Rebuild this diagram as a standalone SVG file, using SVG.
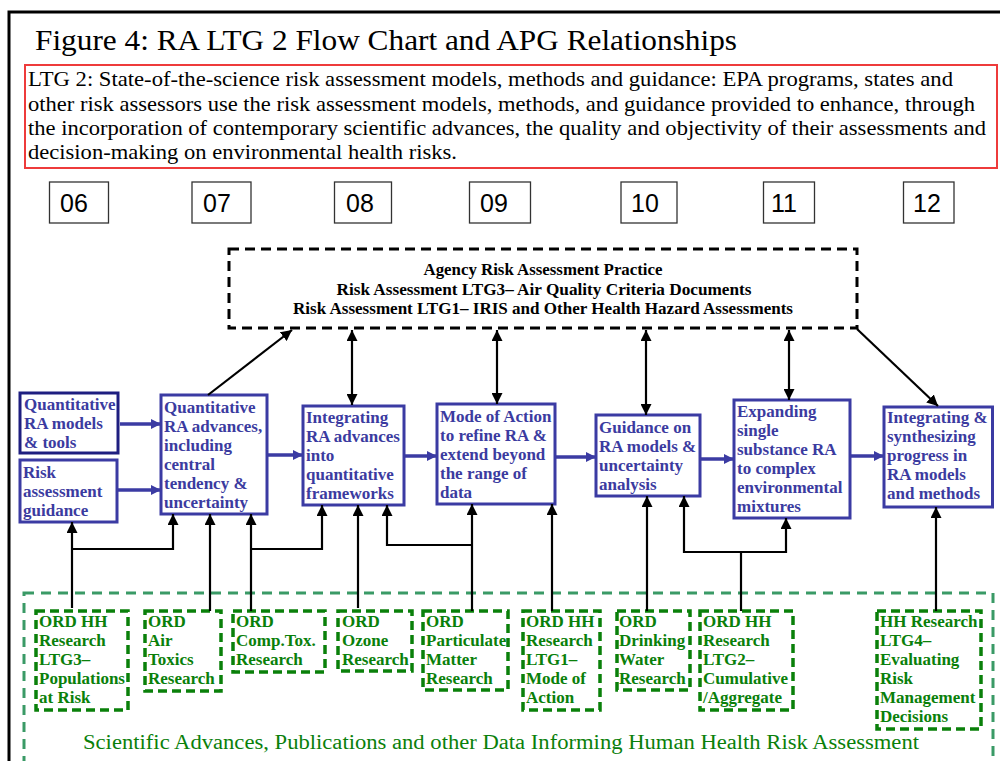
<svg xmlns="http://www.w3.org/2000/svg" width="1000" height="761" viewBox="0 0 1000 761">
<style>
.title{font-family:"Liberation Serif",serif;font-size:30px;fill:#000}
.ltg{font-family:"Liberation Serif",serif;font-size:21px;fill:#000}
.num{font-family:"Liberation Sans",Arial,sans-serif;font-size:25px;fill:#000}
.numbox{fill:#fff;stroke:#333;stroke-width:1.3}
.topt{font-family:"Liberation Serif",serif;font-size:16px;font-weight:bold;fill:#000}
.bt{font-family:"Liberation Serif",serif;font-size:17px;font-weight:bold;fill:#3b3ba0}
.bbox{fill:#fff;stroke:#3b3ba3;stroke-width:3}
.gt{font-family:"Liberation Serif",serif;font-size:17px;font-weight:bold;fill:#0a800a}
.gbox{fill:none;stroke:#0a800a;stroke-width:3.5;stroke-dasharray:9 5}
.blue{fill:none;stroke:#3b3ba3;stroke-width:3.5;marker-end:url(#ab)}
.blk{fill:none;stroke:#000;stroke-width:2.2}
.end{marker-end:url(#ak)}
.both{marker-start:url(#ak);marker-end:url(#ak)}
</style>
<defs>
<marker id="ak" viewBox="0 0 10 10" markerWidth="11" markerHeight="11" refX="10" refY="5" orient="auto-start-reverse" markerUnits="userSpaceOnUse"><path d="M0,0 L10,5 L0,10 z" fill="#000"/></marker>
<marker id="ab" viewBox="0 0 10 10" markerWidth="10" markerHeight="10" refX="10" refY="5" orient="auto" markerUnits="userSpaceOnUse"><path d="M0,0 L10,5 L0,10 z" fill="#3b3ba3"/></marker>
</defs>
<rect width="1000" height="761" fill="#fff"/>
<path d="M9,761 L9,12 L1000,12" fill="none" stroke="#000" stroke-width="3"/>
<text class="title" x="35" y="50" textLength="702" lengthAdjust="spacingAndGlyphs">Figure 4: RA LTG 2 Flow Chart and APG Relationships</text>
<g id="ltg2">
<rect x="25" y="65" width="972" height="103" fill="none" stroke="#ee3b3b" stroke-width="2"/>
<text class="ltg" x="28" y="86" textLength="925" lengthAdjust="spacingAndGlyphs">LTG 2: State-of-the-science risk assessment models, methods and guidance: EPA programs, states and</text>
<text class="ltg" x="28" y="110.5" textLength="947" lengthAdjust="spacingAndGlyphs">other risk assessors use the risk assessment models, methods, and guidance provided to enhance, through</text>
<text class="ltg" x="28" y="135" textLength="958" lengthAdjust="spacingAndGlyphs">the incorporation of contemporary scientific advances, the quality and objectivity of their assessments and</text>
<text class="ltg" x="28" y="159" textLength="429" lengthAdjust="spacingAndGlyphs">decision-making on environmental health risks.</text>
</g>
<g id="numbers">
<rect class="numbox" x="49.5" y="182" width="59" height="41"/><text class="num" x="60" y="212">06</text>
<rect class="numbox" x="192" y="182" width="59" height="41"/><text class="num" x="203" y="212">07</text>
<rect class="numbox" x="334.5" y="182" width="57" height="41"/><text class="num" x="346" y="212">08</text>
<rect class="numbox" x="469.5" y="182" width="61" height="41"/><text class="num" x="480" y="212">09</text>
<rect class="numbox" x="621" y="182" width="56" height="41"/><text class="num" x="631" y="212">10</text>
<rect class="numbox" x="763.5" y="182" width="51" height="41"/><text class="num" x="771" y="212">11</text>
<rect class="numbox" x="903.5" y="182" width="50.5" height="41"/><text class="num" x="913" y="212">12</text>
</g>
<g id="practice">
<rect x="229" y="249" width="628" height="79" fill="none" stroke="#000" stroke-width="3" stroke-dasharray="10 6"/>
<text class="topt" x="543" y="275" text-anchor="middle" textLength="239" lengthAdjust="spacingAndGlyphs">Agency Risk Assessment Practice</text>
<text class="topt" x="544" y="294.5" text-anchor="middle" textLength="415" lengthAdjust="spacingAndGlyphs">Risk Assessment LTG3– Air Quality Criteria Documents</text>
<text class="topt" x="543" y="314" text-anchor="middle" textLength="500" lengthAdjust="spacingAndGlyphs">Risk Assessment LTG1– IRIS and Other Health Hazard Assessments</text>
</g>
<g id="b1">
<rect x="20" y="393" width="98" height="60" fill="#fff" stroke="#1e1e80" stroke-width="3"/>
<text class="bt"><tspan x="24" y="410">Quantitative</tspan><tspan x="24" y="429">RA models</tspan><tspan x="24" y="447.5">&amp; tools</tspan></text>
</g>
<g id="b2">
<rect class="bbox" x="20" y="460" width="97" height="62"/>
<text class="bt"><tspan x="23" y="478">Risk</tspan><tspan x="23" y="497">assessment</tspan><tspan x="23" y="515.5">guidance</tspan></text>
</g>
<g id="b3">
<rect class="bbox" x="161" y="395" width="106" height="119"/>
<text class="bt"><tspan x="164" y="412.7">Quantitative</tspan><tspan x="164" y="431.7">RA advances,</tspan><tspan x="164" y="450.6">including</tspan><tspan x="164" y="469.6">central</tspan><tspan x="164" y="488.6">tendency &amp;</tspan><tspan x="164" y="507.5">uncertainty</tspan></text>
</g>
<g id="b4">
<rect class="bbox" x="303" y="406" width="101" height="99"/>
<text class="bt"><tspan x="306" y="422.7">Integrating</tspan><tspan x="306" y="441.6">RA advances</tspan><tspan x="306" y="460.6">into</tspan><tspan x="306" y="479.6">quantitative</tspan><tspan x="306" y="498.5">frameworks</tspan></text>
</g>
<g id="b5">
<rect class="bbox" x="437" y="404" width="118" height="100"/>
<text class="bt"><tspan x="440" y="421.7">Mode of Action</tspan><tspan x="440" y="440.6">to refine RA &amp;</tspan><tspan x="440" y="459.6">extend beyond</tspan><tspan x="440" y="478.6">the range of</tspan><tspan x="440" y="497.5">data</tspan></text>
</g>
<g id="b6">
<rect class="bbox" x="596" y="415" width="104" height="81"/>
<text class="bt"><tspan x="599" y="432.7">Guidance on</tspan><tspan x="599" y="451.6">RA models &amp;</tspan><tspan x="599" y="470.6">uncertainty</tspan><tspan x="599" y="489.6">analysis</tspan></text>
</g>
<g id="b7">
<rect class="bbox" x="734" y="400" width="116" height="118"/>
<text class="bt"><tspan x="737" y="416.7">Expanding</tspan><tspan x="737" y="435.6">single</tspan><tspan x="737" y="454.6">substance RA</tspan><tspan x="737" y="473.5">to complex</tspan><tspan x="737" y="492.5">environmental</tspan><tspan x="737" y="511.5">mixtures</tspan></text>
</g>
<g id="b8">
<rect class="bbox" x="884" y="407" width="108.5" height="100"/>
<text class="bt"><tspan x="887" y="423.3">Integrating &amp;</tspan><tspan x="887" y="442.3">synthesizing</tspan><tspan x="887" y="461.3">progress in</tspan><tspan x="887" y="480.3">RA models</tspan><tspan x="887" y="499">and methods</tspan></text>
</g>
<g id="advances">
<rect x="24" y="593" width="969" height="180" fill="none" stroke="#3a9a66" stroke-width="3" stroke-dasharray="10 7"/>
<text x="83" y="749" textLength="836" lengthAdjust="spacingAndGlyphs" style="font-family:'Liberation Serif',serif;font-size:20px;fill:#0a800a">Scientific Advances, Publications and other Data Informing Human Health Risk Assessment</text>
</g>
<g id="g1">
<rect class="gbox" x="36" y="611" width="92" height="99"/>
<text class="gt"><tspan x="39" y="627.3">ORD HH</tspan><tspan x="39" y="646.3">Research</tspan><tspan x="39" y="665.3">LTG3–</tspan><tspan x="39" y="684.3">Populations</tspan><tspan x="39" y="703.3">at Risk</tspan></text>
</g>
<g id="g2">
<rect class="gbox" x="145" y="611" width="76" height="80"/>
<text class="gt"><tspan x="148" y="627.3">ORD</tspan><tspan x="148" y="646.3">Air</tspan><tspan x="148" y="665.3">Toxics</tspan><tspan x="148" y="684.3">Research</tspan></text>
</g>
<g id="g3">
<rect class="gbox" x="233" y="611" width="92" height="61"/>
<text class="gt"><tspan x="236" y="627.3">ORD</tspan><tspan x="236" y="646.3">Comp.Tox.</tspan><tspan x="236" y="665.3">Research</tspan></text>
</g>
<g id="g4">
<rect class="gbox" x="338" y="611" width="74" height="60"/>
<text class="gt"><tspan x="342" y="627.3">ORD</tspan><tspan x="342" y="646.3">Ozone</tspan><tspan x="342" y="665.3">Research</tspan></text>
</g>
<g id="g5">
<rect class="gbox" x="423" y="611" width="85" height="79"/>
<text class="gt"><tspan x="426" y="627.3">ORD</tspan><tspan x="426" y="646.3">Particulate</tspan><tspan x="426" y="665.3">Matter</tspan><tspan x="426" y="684.3">Research</tspan></text>
</g>
<g id="g6">
<rect class="gbox" x="523" y="611" width="77" height="99"/>
<text class="gt"><tspan x="526" y="627.3">ORD HH</tspan><tspan x="526" y="646.3">Research</tspan><tspan x="526" y="665.3">LTG1–</tspan><tspan x="526" y="684.3">Mode of</tspan><tspan x="526" y="703.3">Action</tspan></text>
</g>
<g id="g7">
<rect class="gbox" x="617" y="611" width="73" height="79"/>
<text class="gt"><tspan x="619" y="627.3">ORD</tspan><tspan x="619" y="646.3">Drinking</tspan><tspan x="619" y="665.3">Water</tspan><tspan x="619" y="684.3">Research</tspan></text>
</g>
<g id="g8">
<rect class="gbox" x="700" y="611" width="93" height="99"/>
<text class="gt"><tspan x="703" y="627.3">ORD HH</tspan><tspan x="703" y="646.3">Research</tspan><tspan x="703" y="665.3">LTG2–</tspan><tspan x="703" y="684.3">Cumulative</tspan><tspan x="703" y="703.3">/Aggregate</tspan></text>
</g>
<g id="g9">
<rect class="gbox" x="877" y="611" width="104" height="118"/>
<text class="gt"><tspan x="880" y="627.3">HH Research</tspan><tspan x="880" y="646.3">LTG4–</tspan><tspan x="880" y="665.3">Evaluating</tspan><tspan x="880" y="684.3">Risk</tspan><tspan x="880" y="703.3">Management</tspan><tspan x="880" y="722.3">Decisions</tspan></text>
</g>
<g id="connectors">
<path class="blue" d="M120,424 L161,424"/>
<path class="blue" d="M116,490 L161,490"/>
<path class="blue" d="M267,455 L303,455"/>
<path class="blue" d="M404,456 L437,456"/>
<path class="blue" d="M555,457 L596,457"/>
<path class="blue" d="M700,459 L734,459"/>
<path class="blue" d="M850,456 L884,456"/>
<path class="blk end" d="M208,395 L292,330"/>
<path class="blk both" d="M352,330 L352,405"/>
<path class="blk both" d="M497,330 L497,404"/>
<path class="blk both" d="M646,330 L646,415"/>
<path class="blk both" d="M789,330 L789,400"/>
<path class="blk end" d="M857,329 L938,406"/>
<path class="blk end" d="M72,608 L72,522"/>
<path class="blk end" d="M72,549 L173,549 L173,514"/>
<path class="blk end" d="M210,611 L210,514"/>
<path class="blk end" d="M251,611 L251,514"/>
<path class="blk end" d="M251,549 L322,549 L322,505"/>
<path class="blk end" d="M358,608 L358,505"/>
<path class="blk end" d="M472,611 L472,504"/>
<path class="blk end" d="M472,545 L387,545 L387,505"/>
<path class="blk end" d="M552,611 L552,504"/>
<path class="blk end" d="M647,611 L647,496"/>
<path class="blk" d="M741,611 L741,552"/>
<path class="blk end" d="M741,552 L684,552 L684,496"/>
<path class="blk end" d="M741,552 L786,552 L786,518"/>
<path class="blk end" d="M936,611 L936,507"/>
</g>
</svg>
